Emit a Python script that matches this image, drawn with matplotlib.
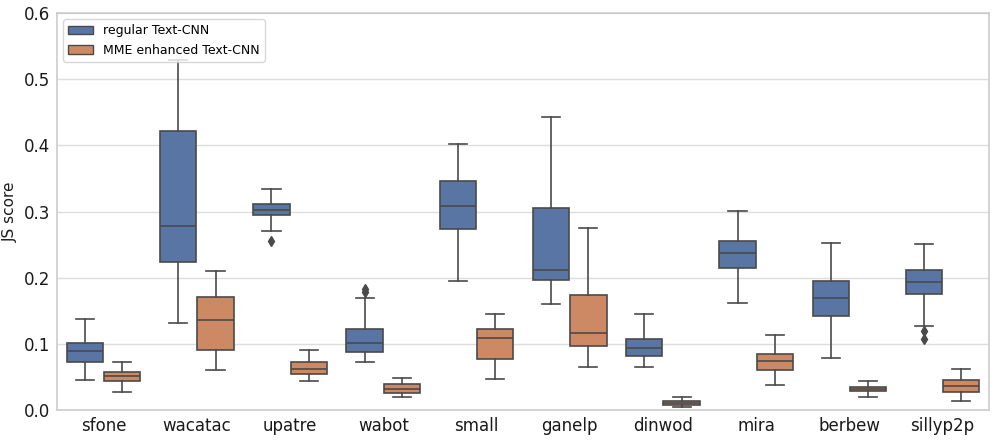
import matplotlib
matplotlib.use("Agg")
import matplotlib.pyplot as plt
from matplotlib.patches import Patch

families = ["sfone", "wacatac", "upatre", "wabot", "small",
            "ganelp", "dinwod", "mira", "berbew", "sillyp2p"]

# (whislo, q1, median, q3, whishi) per family
regular = [
    (0.046, 0.072, 0.089, 0.102, 0.138),
    (0.131, 0.223, 0.278, 0.422, 0.529),
    (0.271, 0.295, 0.302, 0.312, 0.334),
    (0.072, 0.088, 0.101, 0.122, 0.170),
    (0.195, 0.274, 0.309, 0.346, 0.402),
    (0.160, 0.196, 0.211, 0.306, 0.443),
    (0.065, 0.081, 0.093, 0.108, 0.145),
    (0.161, 0.215, 0.238, 0.255, 0.301),
    (0.079, 0.142, 0.170, 0.195, 0.253),
    (0.127, 0.175, 0.193, 0.211, 0.251),
]
regular_fliers = [[], [], [0.256], [0.178, 0.183], [], [], [], [], [], [0.119, 0.107]]

enhanced = [
    (0.027, 0.044, 0.051, 0.058, 0.073),
    (0.060, 0.090, 0.136, 0.171, 0.210),
    (0.044, 0.055, 0.062, 0.073, 0.090),
    (0.020, 0.025, 0.032, 0.039, 0.048),
    (0.047, 0.077, 0.109, 0.123, 0.145),
    (0.065, 0.096, 0.116, 0.174, 0.275),
    (0.005, 0.007, 0.010, 0.013, 0.020),
    (0.038, 0.060, 0.074, 0.085, 0.114),
    (0.019, 0.028, 0.031, 0.035, 0.044),
    (0.013, 0.027, 0.036, 0.045, 0.062),
]
enhanced_fliers = [[] for _ in families]

labels = ["regular Text-CNN", "MME enhanced Text-CNN"]
colors = ["#5875a4", "#cc8963"]
edge = "#4a4a4a"
lw = 1.2


def make_stats(rows, fliers):
    return [dict(whislo=r[0], q1=r[1], med=r[2], q3=r[3], whishi=r[4], fliers=f)
            for r, f in zip(rows, fliers)]


fig = plt.figure(figsize=(9.97, 4.41), dpi=100)
ax = fig.add_axes([0.0572, 0.0703, 0.935, 0.9002])

for k, (rows, fl) in enumerate([(regular, regular_fliers), (enhanced, enhanced_fliers)]):
    pos = [i - 0.2 + 0.4 * k for i in range(len(families))]
    ax.bxp(make_stats(rows, fl), positions=pos, widths=0.39, patch_artist=True,
           boxprops=dict(facecolor=colors[k], edgecolor=edge, linewidth=lw),
           medianprops=dict(color=edge, linewidth=lw),
           whiskerprops=dict(color=edge, linewidth=lw),
           capprops=dict(color=edge, linewidth=lw),
           flierprops=dict(marker="d", markerfacecolor=edge, markeredgecolor=edge,
                           markersize=5))

ax.set_xlim(-0.5, len(families) - 0.5)
ax.set_ylim(0, 0.6)
ax.set_xticks(range(len(families)))
ax.set_xticklabels(families)
ax.set_yticks([0.0, 0.1, 0.2, 0.3, 0.4, 0.5, 0.6])
ax.tick_params(axis="both", length=0, labelsize=12, pad=5, labelcolor="#1a1a1a")
ax.set_ylabel("JS score", fontsize=11, color="#1a1a1a", labelpad=4)
ax.grid(axis="y", color="#dddddd", linewidth=1)
ax.set_axisbelow(True)
for s in ax.spines.values():
    s.set_color("#cccccc")
    s.set_linewidth(1.2)

handles = [Patch(facecolor=colors[k], edgecolor=edge, linewidth=1.0, label=labels[k])
           for k in range(2)]
leg = ax.legend(handles=handles, loc="upper left", fontsize=9, frameon=True,
                borderaxespad=0.5)
leg.get_frame().set_edgecolor("#cccccc")

fig.savefig("out.png", dpi=100)
